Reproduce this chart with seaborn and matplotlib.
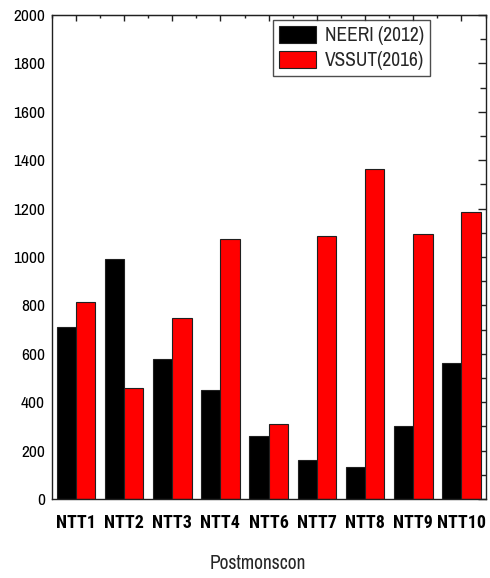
import matplotlib
matplotlib.use("Agg")
import matplotlib.pyplot as plt
from matplotlib.ticker import MultipleLocator, FixedLocator
import seaborn as sns
import pandas as pd
from matplotlib import font_manager

categories = ["NTT1", "NTT2", "NTT3", "NTT4", "NTT6", "NTT7", "NTT8", "NTT9", "NTT10"]
neeri_2012 = [710, 990, 580, 450, 262, 160, 134, 302, 563]
vssut_2016 = [813, 460, 750, 1075, 311, 1087, 1365, 1096, 1186]
series_names = ["NEERI (2012)", "VSSUT(2016)"]
colors = ["#000000", "#FF0000"]
x_title = "Postmonscon"

sns.set_style("white")
names = {f.name for f in font_manager.fontManager.ttflist}

def pick(cands, default="Liberation Sans"):
    for c in cands:
        if c in names:
            return c
    return default

fam = pick(["Liberation Sans Narrow", "Arial Narrow", "Archivo Narrow", "PT Sans Narrow", "Roboto Condensed"])
fam_bold = pick(["Liberation Sans Narrow", "Arial Narrow", "Roboto Condensed", "Archivo Narrow"])
plt.rcParams["font.family"] = [fam, "DejaVu Sans"]

df = pd.DataFrame({
    "cat": categories * 2,
    "val": neeri_2012 + vssut_2016,
    "series": [series_names[0]] * len(categories) + [series_names[1]] * len(categories),
})

fig = plt.figure(figsize=(4.9, 5.78), dpi=100)
ax = fig.add_axes([0.1055, 0.1367, 0.8855, 0.8373])
sns.barplot(data=df, x="cat", y="val", hue="series", order=categories,
            hue_order=series_names, palette=dict(zip(series_names, colors)),
            width=0.8, edgecolor="#202020", linewidth=0.8, saturation=1, ax=ax)

ax.set_xlim(-0.5, len(categories) - 0.5)
ax.set_ylim(0, 2000)
ax.yaxis.set_major_locator(MultipleLocator(200))
ax.yaxis.set_minor_locator(MultipleLocator(100))
ax.xaxis.set_minor_locator(FixedLocator([i + 0.5 for i in range(-1, len(categories))]))

for s in ax.spines.values():
    s.set_visible(True)
    s.set_color("#202020")
    s.set_linewidth(1.0)

ax.tick_params(axis="y", which="major", direction="in", length=6, width=1, right=True,
               labelsize=12.5, pad=5, colors="#202020", labelcolor="black")
ax.tick_params(axis="y", which="minor", direction="in", length=4, width=1, right=True, colors="#202020")
ax.tick_params(axis="x", which="major", direction="out", length=9, width=1, labelsize=13,
               pad=2, colors="#202020", labelcolor="black")
ax.tick_params(axis="x", which="minor", direction="out", length=3, width=1, colors="#202020")
for lab in ax.get_xticklabels():
    lab.set_fontweight("bold")
    lab.set_family([fam_bold, "DejaVu Sans"])

top = ax.secondary_xaxis("top")
top.set_xticks(range(len(categories)))
top.xaxis.set_minor_locator(FixedLocator([i + 0.5 for i in range(-1, len(categories))]))
top.tick_params(which="major", direction="in", length=4, width=1, labeltop=False, colors="#202020")
top.tick_params(which="minor", direction="in", length=2, width=1, colors="#202020")
top.set_xticklabels([])

ax.set_ylabel("")
ax.set_xlabel(x_title, fontsize=14)
ax.xaxis.set_label_coords(0.474, -0.133)
ax.xaxis.label.set_verticalalignment("center")

leg = ax.legend(loc="upper left", bbox_to_anchor=(0.511, 0.99), frameon=True, fancybox=False,
                fontsize=14, handlelength=1.9, handleheight=1.0, handletextpad=0.45,
                labelspacing=0.3, borderpad=0.3, borderaxespad=0, title=None)
leg.get_frame().set_edgecolor("#202020")
leg.get_frame().set_linewidth(1.0)

fig.savefig("out.png", dpi=100)
